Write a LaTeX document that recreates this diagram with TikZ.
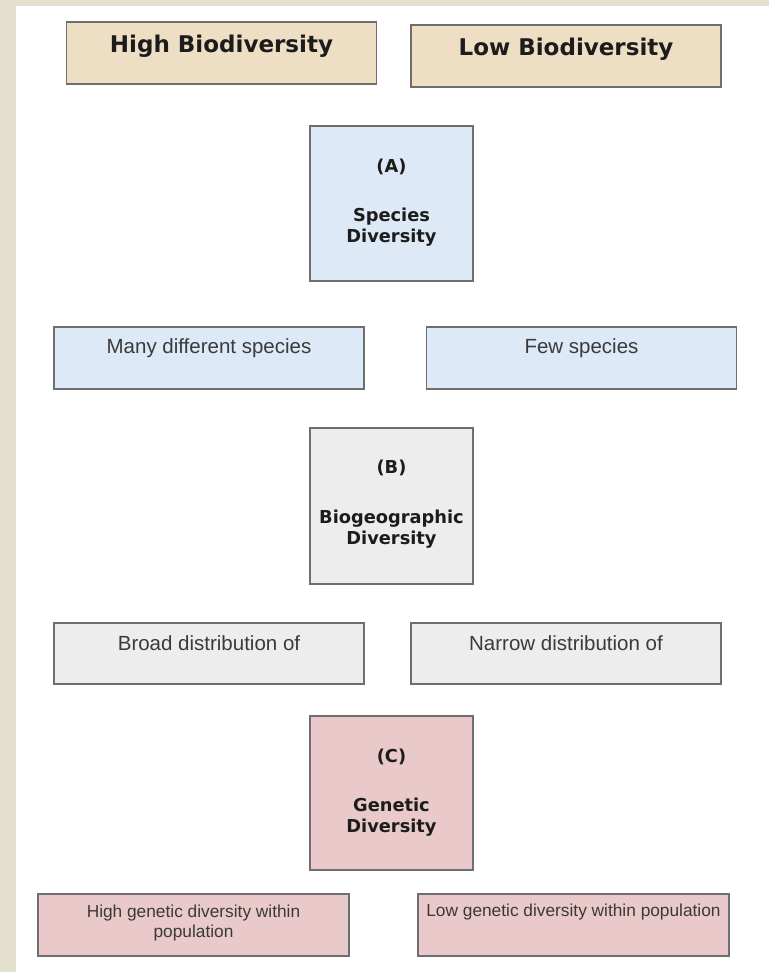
\documentclass[tikz,border=0pt]{standalone}
\usepackage{fontspec}
\setmainfont{Liberation Sans}
\newfontfamily\boldfam{DejaVu Sans}[BoldFont={DejaVu Sans Bold}]
\definecolor{stripbg}{HTML}{E3E0D0}
\definecolor{beigefill}{HTML}{EEDEC4}
\definecolor{bluefill}{HTML}{DDE9F6}
\definecolor{grayfill}{HTML}{EDEDED}
\definecolor{pinkfill}{HTML}{E9C9C9}
\definecolor{edgegray}{HTML}{6E6E6E}
\definecolor{txtdark}{HTML}{1C1C1C}
\definecolor{txtgray}{HTML}{3A3A3A}
\tikzset{
  panel/.style={draw=edgegray, line width=1.3pt, rectangle, inner sep=0pt},
  widebox/.style={panel, minimum width=310pt, minimum height=62pt},
  tallbox/.style={panel, minimum width=163pt, minimum height=155pt},
  headtxt/.style={font=\boldfam\bfseries\fontsize{23}{27}\selectfont, text=txtdark, inner sep=0pt},
  labtxt/.style={font=\boldfam\bfseries\fontsize{17.8}{21}\selectfont, text=txtdark, inner sep=0pt, align=center},
  plaintxt/.style={font=\fontsize{20.5}{24}\selectfont, text=txtgray, inner sep=0pt, align=center},
  smalltxt/.style={font=\fontsize{17.3}{20}\selectfont, text=txtgray, inner sep=0pt, align=center},
}
\begin{document}
\begin{tikzpicture}[x=1pt, y=-1pt]
\useasboundingbox (0,0) rectangle (769,972);
\fill[white] (0,0) rectangle (769,972);
\fill[stripbg] (0,0) rectangle (16,972);
\fill[stripbg] (0,0) rectangle (769,6);

% headers
\node[widebox, fill=beigefill] (hb) at (221.5,53) {};
\node[headtxt] (hbt) at ([yshift=7pt]hb.center) {High Biodiversity};
\node[widebox, fill=beigefill] (lb) at (566,56) {};
\node[headtxt] (lbt) at ([yshift=7pt]lb.center) {Low Biodiversity};

% (A)
\node[tallbox, fill=bluefill] (A) at (391.5,203.5) {};
\node[labtxt] (At) at ([yshift=-42pt]A.north) {(A)};
\node[labtxt] (An) at ([yshift=-102pt]A.north) {Species\\Diversity};
\node[widebox, fill=bluefill] (many) at (209,358) {};
\node[plaintxt] (manyt) at ([yshift=-22pt]many.north) {Many different species};
\node[widebox, fill=bluefill] (few) at (581.5,358) {};
\node[plaintxt] (fewt) at ([yshift=-22pt]few.north) {Few species};

% (B)
\node[tallbox, fill=grayfill, minimum height=156pt] (B) at (391.5,506) {};
\node[labtxt] (Bt) at ([yshift=-41pt]B.north) {(B)};
\node[labtxt] (Bn) at ([yshift=-102pt]B.north) {Biogeographic\\Diversity};
\node[widebox, fill=grayfill, minimum height=61pt] (broad) at (209,653.5) {};
\node[plaintxt] (broadt) at ([yshift=-21pt]broad.north) {Broad distribution of};
\node[widebox, fill=grayfill, minimum height=61pt] (narrow) at (566,653.5) {};
\node[plaintxt] (narrowt) at ([yshift=-21pt]narrow.north) {Narrow distribution of};

% (C)
\node[tallbox, fill=pinkfill, minimum height=154pt] (C) at (391.5,793) {};
\node[labtxt] (Ct) at ([yshift=-42pt]C.north) {(C)};
\node[labtxt] (Cn) at ([yshift=-102pt]C.north) {Genetic\\Diversity};
\node[widebox, fill=pinkfill, minimum width=311pt] (highg) at (193.5,925) {};
\node[smalltxt] (highgt) at ([yshift=-30pt]highg.north) {High genetic diversity within\\population};
\node[widebox, fill=pinkfill, minimum width=311pt] (lowg) at (573.5,925) {};
\node[smalltxt] (lowgt) at ([yshift=-19pt]lowg.north) {Low genetic diversity within population};
\end{tikzpicture}
\end{document}
